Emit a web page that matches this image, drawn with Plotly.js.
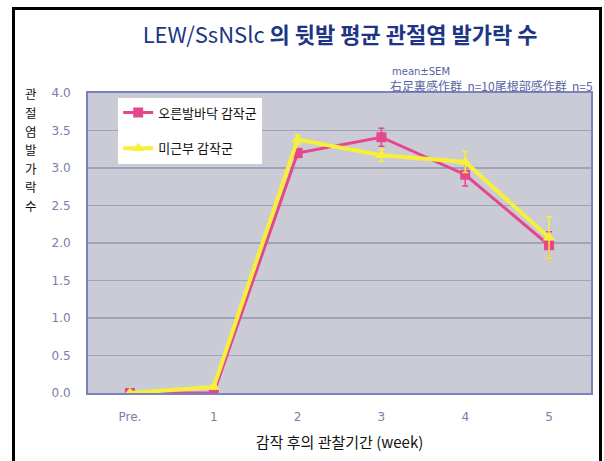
<!DOCTYPE html>
<html>
<head>
<meta charset="utf-8">
<script src="https://cdn.plot.ly/plotly-3.0.1.min.js"></script>
<style>
  html, body { margin: 0; padding: 0; background: #ffffff; }
  #wrap { position: relative; width: 604px; height: 461px; overflow: hidden; }
  #chart { position: absolute; left: 0; top: 0; width: 604px; height: 461px; }
  #frame { position: absolute; left: 12px; top: 7px; width: 584px; height: 480px;
           border-left: 3px solid #000; border-top: 3px solid #000; border-right: 3px solid #000;
           pointer-events: none; }
</style>
</head>
<body>
<div id="wrap">
  <div id="chart"></div>
  <div id="frame"></div>
</div>
<script>
const categories = ["Pre.", "1", "2", "3", "4", "5"];
const seriesNames = ["오른발바닥 감작군", "미근부 감작군"];
const footValues = [0.0, 0.0, 3.2, 3.41, 2.91, 1.97];
const footSEM = [0.0, 0.0, 0.06, 0.12, 0.15, 0.18];
const tailValues = [0.0, 0.08, 3.38, 3.17, 3.08, 2.07];
const tailSEM = [0.0, 0.03, 0.06, 0.08, 0.14, 0.28];
const yTicks = [0, 0.5, 1, 1.5, 2, 2.5, 3, 3.5, 4];
const yTickLabels = ["0.0", "0.5", "1.0", "1.5", "2.0", "2.5", "3.0", "3.5", "4.0"];
const yTitleChars = ["관", "절", "염", "발", "가", "락", "수"];

const pink = "#e4478c";
const yellow = "#f6f03a";

const traces = [
  {
    x: categories, y: footValues, name: seriesNames[0], type: "scatter", mode: "lines+markers",
    legendgroup: "a",
    line: { color: pink, width: 3 },
    marker: { symbol: "square", size: 10, color: pink },
    error_y: { type: "data", array: footSEM, visible: true, color: pink, thickness: 1.5, width: 3 }
  },
  {
    x: categories, y: tailValues, name: seriesNames[1], type: "scatter", mode: "lines+markers",
    legendgroup: "b",
    line: { color: yellow, width: 4 },
    marker: { symbol: "triangle-up", size: 11, color: yellow },
    error_y: { type: "data", array: tailSEM, visible: true, color: yellow, thickness: 1.5, width: 3 }
  }
];

const annotations = [
  { xref: "paper", yref: "paper", x: (389 - 88) / 502, y: (393 - 72) / 300, xanchor: "left", yanchor: "middle",
    text: "mean±SEM", showarrow: false, font: { size: 10, color: "#5a64a0", family: "DejaVu Sans, sans-serif" } },
  { xref: "paper", yref: "paper", x: (387 - 88) / 502, y: (393 - 86) / 300, xanchor: "left", yanchor: "middle",
    text: "右足裏感作群  n=10尾根部感作群  n=5", showarrow: false,
    font: { size: 12, color: "#5a64a0", family: "Noto Sans CJK JP, sans-serif" } }
];
yTitleChars.forEach((ch, i) => {
  annotations.push({
    xref: "paper", yref: "paper", x: (31 - 88) / 502, y: (393 - (94 + i * 18.5)) / 300,
    xanchor: "center", yanchor: "middle", text: ch, showarrow: false, borderpad: 0,
    font: { size: 12.5, color: "#111" }
  });
});

const layout = {
  width: 604, height: 461,
  margin: { l: 88, r: 13, t: 93, b: 68, pad: 0 },
  paper_bgcolor: "#ffffff",
  plot_bgcolor: "#cbcbd6",
  font: { family: "Noto Sans CJK KR, Noto Sans, sans-serif", color: "#222" },
  title: {
    text: "<span style='font-weight:normal'>LEW/SsNSlc</span> <b>의 뒷발 평균 관절염 발가락 수</b>",
    font: { size: 22, color: "#1d3585", family: "Noto Sans CJK KR, Noto Sans, sans-serif" },
    x: 0.563, xanchor: "center", y: 0.923, yanchor: "middle"
  },
  xaxis: {
    type: "category",
    range: [-0.5, 5.5],
    showgrid: false, zeroline: false,
    showline: true, linecolor: "#7b80c0", linewidth: 2, mirror: true,
    ticks: "", tickfont: { size: 12, color: "#7680a8", family: "DejaVu Sans, sans-serif" },
    ticklabelstandoff: 12,
    title: { text: "감작 후의 관찰기간 (week)", font: { size: 15, color: "#111" }, standoff: 14 }
  },
  yaxis: {
    range: [0, 4],
    tickvals: yTicks, ticktext: yTickLabels,
    showgrid: true, gridcolor: "#9ea3b8", gridwidth: 1.2,
    zeroline: false,
    showline: true, linecolor: "#7b80c0", linewidth: 2, mirror: true,
    ticks: "", tickfont: { size: 12, color: "#7680a8", family: "DejaVu Sans, sans-serif" },
    ticklabelstandoff: 13
  },
  legend: {
    x: 0.06, xanchor: "left", y: 0.985, yanchor: "top",
    bgcolor: "#ffffff", borderwidth: 0,
    font: { size: 13, color: "#111" },
    tracegroupgap: 16,
    traceorder: "grouped"
  },
  annotations: annotations,
  showlegend: true
};

Plotly.newPlot("chart", traces, layout, { displayModeBar: false, staticPlot: true });
</script>
</body>
</html>
